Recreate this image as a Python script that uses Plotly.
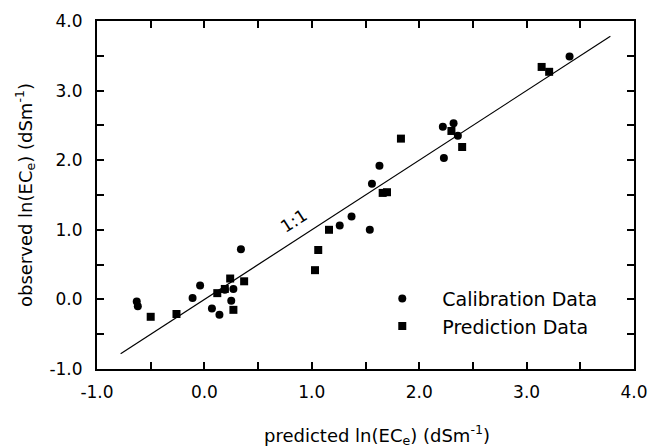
import plotly.graph_objects as go

# Calibration data (circles)
cal_x = [3.40, 2.22, 2.32, 2.36, 2.23, 1.63, 1.56, 1.54, 1.37, 1.26, 0.34, 0.27, 0.25,
         0.07, 0.14, -0.04, -0.11, -0.63, -0.62, 0.19]
cal_y = [3.49, 2.48, 2.53, 2.35, 2.03, 1.92, 1.66, 1.00, 1.19, 1.06, 0.72, 0.15, -0.02,
         -0.13, -0.22, 0.20, 0.02, -0.03, -0.10, 0.14]

# Prediction data (squares)
pred_x = [3.14, 3.21, 2.30, 2.40, 1.83, 1.66, 1.70, 1.16, 1.06, 1.03, 0.37, 0.24, 0.19,
          0.12, 0.27, -0.26, -0.50]
pred_y = [3.34, 3.27, 2.42, 2.19, 2.31, 1.53, 1.54, 1.00, 0.71, 0.42, 0.26, 0.30, 0.15,
          0.09, -0.15, -0.21, -0.25]

# 1:1 line
line_x = [-0.78, 3.78]
line_y = [-0.78, 3.78]

tick_vals = [-1.0, -0.5, 0.0, 0.5, 1.0, 1.5, 2.0, 2.5, 3.0, 3.5, 4.0]
tick_text = ["-1.0", "", "0.0", "", "1.0", "", "2.0", "", "3.0", "", "4.0"]

x_title = "predicted ln(EC<sub>e</sub>) (dSm<sup>-1</sup>)"
y_title = "observed ln(EC<sub>e</sub>) (dSm<sup>-1</sup>)"

FONT = "DejaVu Sans"

fig = go.Figure()
fig.add_trace(go.Scatter(x=line_x, y=line_y, mode="lines",
                         line=dict(color="black", width=1.2), showlegend=False,
                         hoverinfo="skip"))
fig.add_trace(go.Scatter(x=cal_x, y=cal_y, mode="markers", name="Calibration Data",
                         marker=dict(symbol="circle", size=8, color="black")))
fig.add_trace(go.Scatter(x=pred_x, y=pred_y, mode="markers", name="Prediction Data",
                         marker=dict(symbol="square", size=8, color="black")))

fig.add_annotation(x=0.83, y=1.13, xref="x", yref="y", text="1:1", showarrow=False,
                   textangle=-33, font=dict(family=FONT, size=17, color="black"))

# axis titles
fig.add_annotation(x=0.521, y=-0.19, xref="paper", yref="paper", text=x_title,
                   showarrow=False, xanchor="center", yanchor="middle",
                   font=dict(family=FONT, size=18, color="black"))
fig.add_annotation(x=-0.134, y=0.5, xref="paper", yref="paper", text=y_title,
                   showarrow=False, xanchor="center", yanchor="middle", textangle=-90,
                   font=dict(family=FONT, size=18, color="black"))

axis_common = dict(
    tickmode="array", tickvals=tick_vals, ticktext=tick_text,
    ticks="inside", ticklen=7, tickwidth=1.5, tickcolor="black",
    showline=True, linewidth=2, linecolor="black", mirror="allticks",
    showgrid=False, zeroline=False, automargin=False,
    tickfont=dict(family=FONT, size=17, color="black"),
    range=[-1.0, 4.0],
)

fig.update_layout(
    width=648, height=448,
    margin=dict(l=97, r=14, t=21, b=79, autoexpand=False),
    paper_bgcolor="white", plot_bgcolor="white",
    font=dict(family=FONT, color="black"),
    xaxis=dict(**axis_common, ticklabelstandoff=7),
    yaxis=dict(**axis_common, ticklabelstandoff=9),
    legend=dict(x=0.494, y=0.257, xanchor="left", yanchor="top", itemwidth=70,
                font=dict(family=FONT, size=19, color="black"),
                bgcolor="rgba(0,0,0,0)", tracegroupgap=0),
    showlegend=True,
)

fig.write_html("out.html", config={"displayModeBar": False},
               post_script="document.body.style.margin='0px';")
